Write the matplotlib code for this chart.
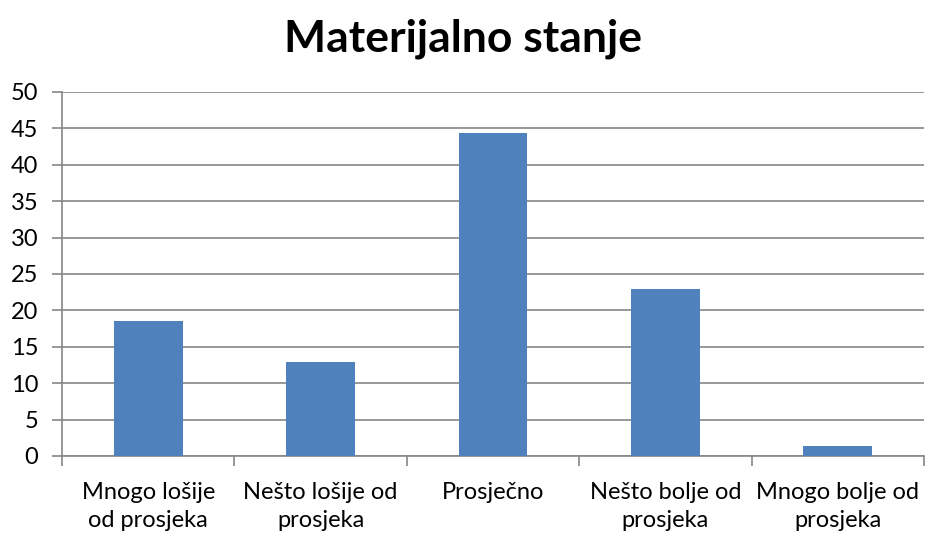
import numpy as np
import matplotlib.pyplot as plt

categories = ["Mnogo lošije\nod prosjeka", "Nešto lošije od\nprosjeka", "Prosječno",
              "Nešto bolje od\nprosjeka", "Mnogo bolje od\nprosjeka"]
values = [18.6, 12.9, 44.3, 22.9, 1.4]
yticks = [0, 5, 10, 15, 20, 25, 30, 35, 40, 45, 50]

plt.rcParams['font.family'] = ['Lato', 'DejaVu Sans']

fig = plt.figure(figsize=(9.27, 5.36), dpi=100)
ax = fig.add_axes([62/927, 80/536, 862/927, 364/536])

x = np.arange(len(categories))
ax.bar(x, values, width=0.4, color="#4F81BD", zorder=3)

ax.set_xlim(-0.5, len(categories) - 0.5)
ax.set_ylim(0, 50)
ax.set_yticks(yticks)
ax.set_yticklabels([str(v) for v in yticks], fontsize=17)
ax.yaxis.grid(True, color="#868686", linewidth=1.2, zorder=0)

ax.set_xticks(x)
ax.set_xticklabels(categories, fontsize=17, linespacing=1.4)
ax.set_xticks(np.arange(len(categories) + 1) - 0.5, minor=True)
ax.tick_params(axis='x', which='major', length=0, pad=19)
ax.tick_params(axis='x', which='minor', length=7, color="#868686", width=1.2)
ax.tick_params(axis='y', length=7, color="#868686", width=1.2, pad=10)

for s in ["top", "right"]:
    ax.spines[s].set_visible(False)
ax.spines["left"].set_color("#868686")
ax.spines["bottom"].set_color("#868686")
ax.spines["left"].set_linewidth(1.2)
ax.spines["bottom"].set_linewidth(1.2)

fig.text(0.5, 0.928, "Materijalno stanje", ha="center", va="center",
         fontsize=32, fontweight="bold")

fig.savefig("out.png", dpi=100)
